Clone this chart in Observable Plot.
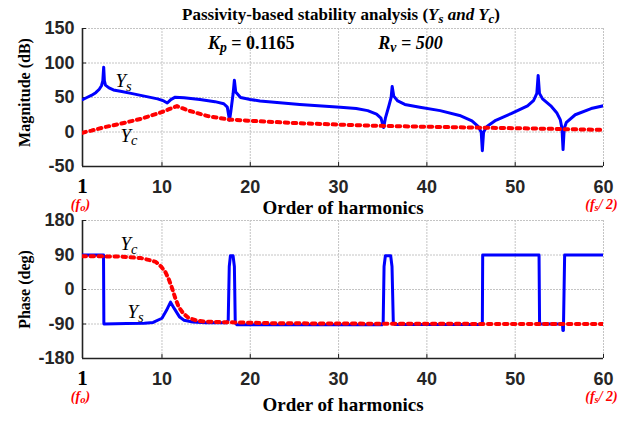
<!DOCTYPE html>
<html><head><meta charset="utf-8">
<script src="https://cdn.jsdelivr.net/npm/d3@7"></script>
<script src="https://cdn.jsdelivr.net/npm/@observablehq/plot@0.6"></script>
<style>
body{margin:0;background:#fff;}
#chart{width:626px;}
#chart svg{display:block;}
</style></head><body><div id="chart"></div>
<script>
// ---- tick labels ----
const xTicks = [10, 20, 30, 40, 50, 60];
const xFirst = [1];
const magTicks = [-50, 0, 50, 100, 150];
const phaseTicks = [-180, -90, 0, 90, 180];

// ---- Ys magnitude (dB) ----
const ysMagX = [1,1.5,2,2.5,2.9,3.15,3.3,3.4,3.48,3.6,4,4.5,5.3,6.5,8,9.5,10.2,10.6,11,11.5,12.5,14.3,16,17,17.4,17.65,17.8,18.05,18.2,18.35,18.9,20,21.1,25.6,30.2,32,33.3,34.3,34.8,35.1,35.3,35.7,35.95,36.07,36.25,36.7,37.5,39.2,41.5,43.7,45.1,45.8,46.15,46.28,46.42,46.8,47.8,49.6,51.4,52.1,52.45,52.6,52.75,53.1,54.1,54.7,55.1,55.3,55.42,55.55,55.8,56.8,58.6,60];
const ysMagY = [47,50,53,57,62,67,74,94,74,68,64,61,59,56,52,48,45,42,47,50.5,49.5,47,44,41,36,17,30,55,75,58,50,47,45,40,36,34,31,26,20,6.5,20,38,50,66,52,45,40,36,31,24,16,8,0,-27,0,8,17,27,38,46,56,82,56,48,37,28,18,5,-25.5,5,14,25,34,38];

// ---- Yc magnitude (dB) ----
const ycMagX = [1,2,3.5,5.3,7.6,9.8,10.8,11.7,13,15.2,17.6,21.1,25.6,30.2,34.7,39.2,46,52.8,60];
const ycMagY = [-1,2,7,12,19,28,33,37.5,31,23,18,15.5,12.7,10.7,8.9,7.8,6.3,4.9,3];

// ---- Ys phase (deg) ----
const ysPhX = [1,3.38,3.42,6,8,9,10,10.5,10.97,11.4,12,12.5,13.5,15,17.3,17.5,17.62,17.75,18.05,18.2,18.3,18.5,34.9,35.05,35.15,35.3,35.9,36.05,36.2,36.4,46.28,46.32,52.7,52.76,55.36,55.4,55.46,55.6,60];
const ysPhY = [90,90,-90,-89,-88,-86,-75,-55,-33,-50,-72,-80,-85,-87,-87,-80,60,88,88,60,-88,-92,-92,-85,60,88,88,60,-88,-91,-91,90,90,-90,-90,-107,-107,90,90];

// ---- Yc phase (deg) ----
const ycPhX = [1,5.3,7.6,8.7,9.3,9.9,10.4,10.8,11.15,11.5,11.9,12.4,13,13.8,14.7,17.4,23,37,60];
const ycPhY = [87,86,82,76,72,60,45,25,3,-22,-46,-62,-74,-80,-83.5,-85.5,-88,-89.5,-90];

// ---- texts ----
const titleText = "Passivity-based stability analysis (Ys and Yc)";
const kpText = "Kp = 0.1165";
const rvText = "Rv = 500";
const xLabel = "Order of harmonics";
const f0Text = "(fo)";
const fsText = "(fs/2)";

const zip = (X, Y) => X.map((x, i) => ({x, y: Y[i]}));

const SERIF = "'Liberation Serif','Times New Roman',serif";
const SANS = "'Liberation Sans',Arial,sans-serif";
const TICKCOL = "#262626";

const RICH = {
  "Ys": {size: 19, segs: [{t: "Y", i: 1}, {t: "s", i: 1, sub: 1}]},
  "Yc": {size: 19, segs: [{t: "Y", i: 1}, {t: "c", i: 1, sub: 1}]},
  [titleText]: {size: 17, segs: [{t: "Passivity-based stability analysis ("}, {t: "Y", i: 1}, {t: "s", i: 1, sub: 1}, {t: " and ", i: 1}, {t: "Y", i: 1}, {t: "c", i: 1, sub: 1}, {t: ")"}]},
  [kpText]: {size: 18, segs: [{t: "K", i: 1}, {t: "p", i: 1, sub: 1}, {t: " = 0.1165"}]},
  [rvText]: {size: 18, segs: [{t: "R", i: 1}, {t: "v", i: 1, sub: 1}, {t: " = 500", i: 1}]},
  [f0Text]: {size: 14, segs: [{t: "(f", i: 1}, {t: "o", i: 1, sub: 1}, {t: ")", i: 1}]},
  [fsText]: {size: 14, segs: [{t: "(f", i: 1}, {t: "s", i: 1, sub: 1}, {t: "/ 2)", i: 1}]}
};

function richify(svg) {
  d3.select(svg).selectAll("text").each(function() {
    const el = this;
    if (el.querySelector("tspan")) return;
    const spec = RICH[el.textContent];
    if (!spec) return;
    el.textContent = "";
    let shift = 0;
    spec.segs.forEach(s => {
      const ts = d3.select(el).append("tspan").text(s.t);
      const target = s.sub ? spec.size * 0.2 : 0;
      if (target !== shift) { ts.attr("dy", target - shift); shift = target; }
      if (s.sub) ts.attr("font-size", spec.size * 0.76);
      if (s.i) ts.attr("font-style", "italic");
    });
  });
}

const fmt = d => String(d);

function panel(o) {
  const [y0] = o.yDomain;
  const grid = {stroke: "#c4c4c4", strokeOpacity: 1, strokeWidth: 1, strokeDasharray: "2,1"};
  const marks = [
    Plot.gridX([1, ...xTicks], grid),
    Plot.gridY(o.yTicks, grid),
    Plot.axisY(o.yTicks, {tickSize: 0, tickPadding: 8, tickFormat: fmt, fontSize: 18, fontWeight: "bold", fontFamily: SANS, fill: TICKCOL}),
    Plot.axisY(o.yTicks, {tickSize: -4, tickFormat: () => "", stroke: "#222"}),
    Plot.axisX(xTicks, {tickSize: 0, tickPadding: 14, tickFormat: fmt, fontSize: 18, fontWeight: "bold", fontFamily: SANS, fill: TICKCOL}),
    Plot.axisX(xFirst, {tickSize: 0, tickPadding: 12, tickFormat: fmt, fontSize: 21, fontWeight: "bold", fontFamily: SERIF, fill: "#000"}),
    Plot.axisX(xTicks, {tickSize: -4, tickFormat: () => "", stroke: "#222"}),
    Plot.ruleX([1], {stroke: "#222", strokeWidth: 1.6}),
    Plot.ruleY([y0], {stroke: "#222", strokeWidth: 1.6}),
    Plot.line(o.ys, {x: "x", y: "y", stroke: "#0000ff", strokeWidth: 3, clip: true}),
    Plot.line(o.yc, {x: "x", y: "y", stroke: "#ff0000", strokeWidth: 4, strokeDasharray: "3.5,4.5", clip: true}),
    Plot.text([{x: 1, t: f0Text}, {x: 60, t: fsText}], {x: "x", text: "t", frameAnchor: "bottom", dy: 42, dx: -2, lineAnchor: "bottom", fontFamily: SERIF, fontWeight: "bold", fontSize: 14, fill: "#ff0000"}),
    Plot.text([xLabel], {frameAnchor: "bottom", dy: o.xLabelDy, textAnchor: "middle", lineAnchor: "bottom", fontFamily: SERIF, fontWeight: "bold", fontSize: 19, fill: "#000"}),
    Plot.text([o.yLabel], {frameAnchor: "left", rotate: -90, dx: -58, dy: o.yLabelDy, textAnchor: "middle", lineAnchor: "middle", fontFamily: SERIF, fontWeight: "bold", fontSize: 16, fill: "#000"}),
    Plot.text(o.notes, {x: "x", y: "y", text: "t", textAnchor: "start", lineAnchor: "bottom", fontFamily: SERIF, fontSize: 19, fill: "#000"}),
    ...(o.extra || [])
  ];
  const svg = Plot.plot({
    width: 626, height: o.height, marginTop: o.marginTop, marginBottom: o.marginBottom,
    marginLeft: 82, marginRight: 23,
    x: {domain: [1, 60], label: null},
    y: {domain: o.yDomain, label: null},
    style: {background: "white", overflow: "visible"},
    marks
  });
  richify(svg);
  return svg;
}

const topPanel = panel({
  height: 218, marginTop: 28, marginBottom: 52,
  yDomain: [-50, 150], yTicks: magTicks,
  ys: zip(ysMagX, ysMagY), yc: zip(ycMagX, ycMagY),
  yLabel: "Magnitude (dB)", yLabelDy: -5, xLabelDy: 47,
  notes: [{x: 4.74, y: 64.5, t: "Ys"}, {x: 5.3, y: -13.8, t: "Yc"}],
  extra: [
    Plot.text([titleText], {frameAnchor: "top", dy: -9, dx: -2, textAnchor: "middle", lineAnchor: "bottom", fontFamily: SERIF, fontWeight: "bold", fontSize: 17, fill: "#000"}),
    Plot.text([{x: 15.2, y: 121, t: kpText}, {x: 34.5, y: 121, t: rvText}], {x: "x", y: "y", text: "t", textAnchor: "start", lineAnchor: "bottom", fontFamily: SERIF, fontWeight: "bold", fontSize: 18, fill: "#000"})
  ]
});

const bottomPanel = panel({
  height: 203, marginTop: 2, marginBottom: 63,
  yDomain: [-180, 180], yTicks: phaseTicks,
  ys: zip(ysPhX, ysPhY), yc: zip(ycPhX, ycPhY),
  yLabel: "Phase (deg)", yLabelDy: 0, xLabelDy: 52,
  notes: [{x: 5.3, y: 102, t: "Yc"}, {x: 6.1, y: -74, t: "Ys"}]
});

document.getElementById("chart").append(topPanel, bottomPanel);
</script></body></html>
